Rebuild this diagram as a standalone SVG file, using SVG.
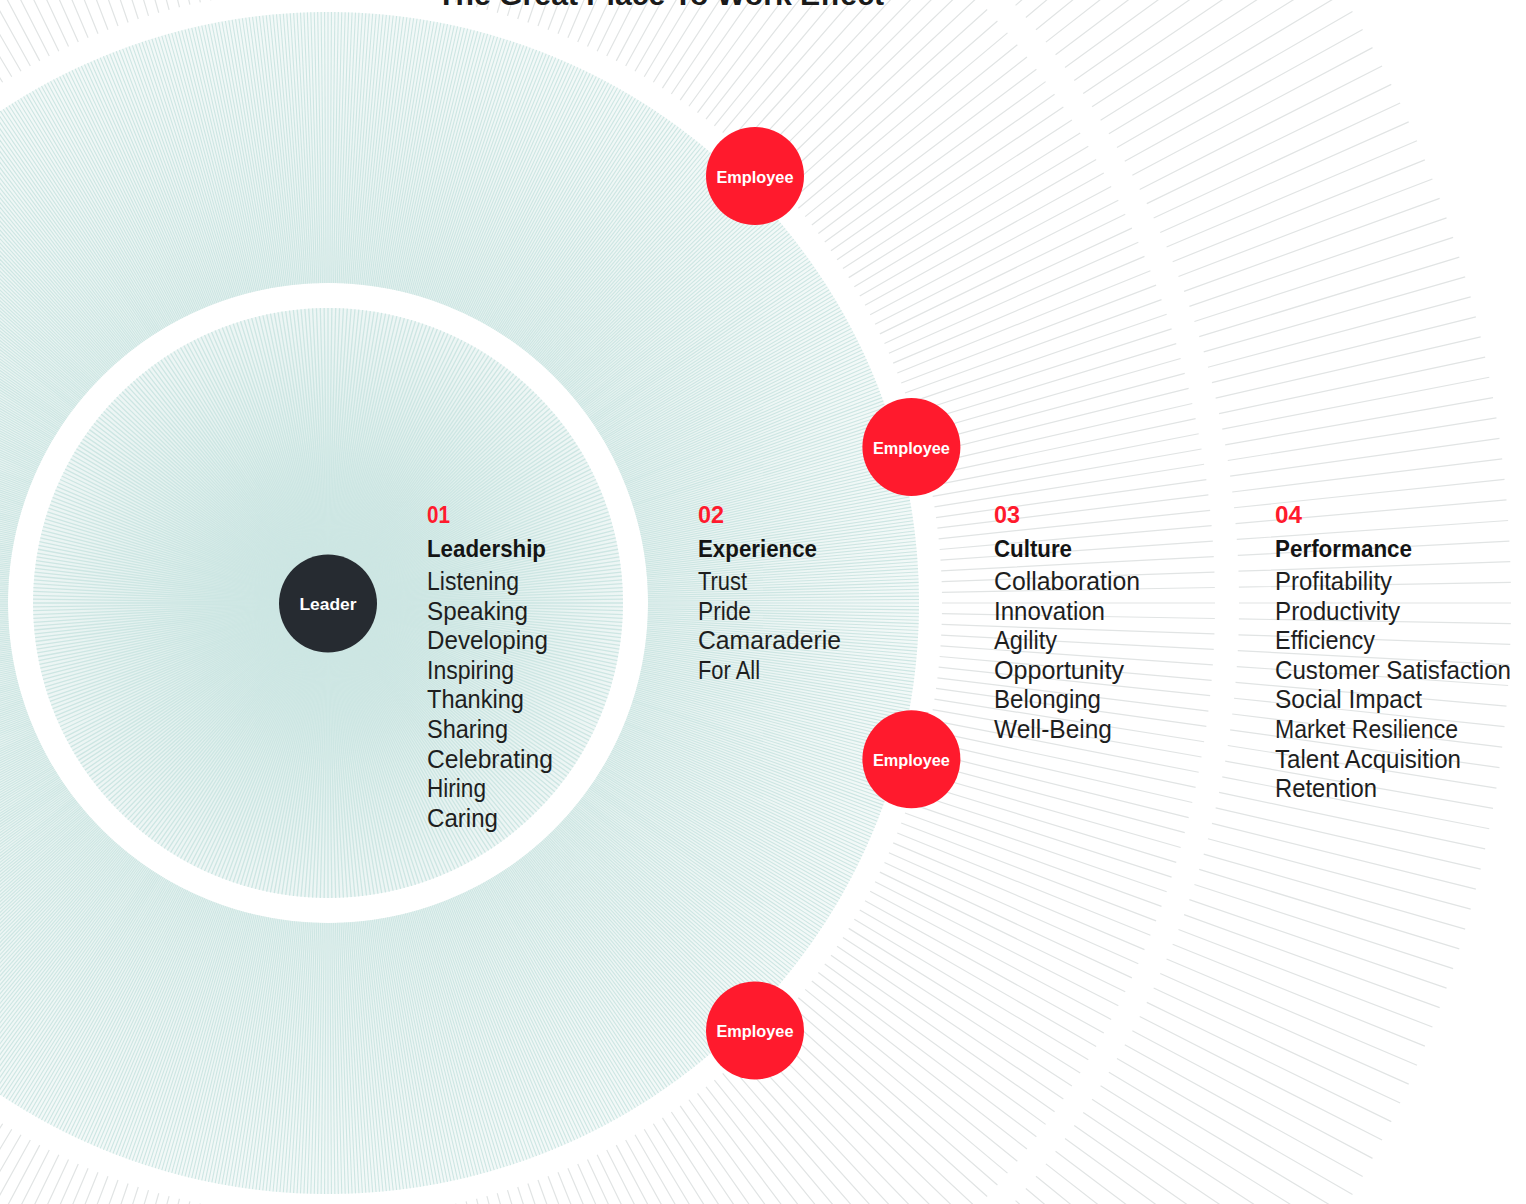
<svg xmlns="http://www.w3.org/2000/svg" width="1526" height="1204" viewBox="0 0 1526 1204">
<style>
.teal{stroke:#CDE6E3;fill:none}
.gray{stroke:#E1E4E4;fill:none}
text{font-family:"Liberation Sans",Arial,sans-serif}
.num{font-size:24px;font-weight:700;fill:#FF1A2D}
.hd{font-size:24px;font-weight:700;fill:#141414}
.it{font-size:25px;fill:#1E1E1E}
.red{fill:#FF1A2D}
.dark{fill:#262B31}
.lbl{font-size:17px;font-weight:700;fill:#FFFFFF;text-anchor:middle}
.title{font-size:30px;font-weight:700;fill:#1B1B1B}
</style>
<defs>
<radialGradient id="ga" cx="0" cy="0" r="295" gradientUnits="userSpaceOnUse">
<stop offset="0" stop-color="#D3EAE7"/>
<stop offset="0.45" stop-color="#DCEEEB"/>
<stop offset="1" stop-color="#EEF6F5"/>
</radialGradient>
<radialGradient id="gb" cx="0" cy="0" r="591" gradientUnits="userSpaceOnUse">
<stop offset="0.54" stop-color="#E6F2F0"/>
<stop offset="1" stop-color="#F3F9F8"/>
</radialGradient>
<path id="la" d="M0 0H295"/>
<g id="a1"><use href="#la"/><use href="#la" transform="rotate(0.75)"/><use href="#la" transform="rotate(1.5)"/><use href="#la" transform="rotate(2.25)"/><use href="#la" transform="rotate(3)"/><use href="#la" transform="rotate(3.75)"/><use href="#la" transform="rotate(4.5)"/><use href="#la" transform="rotate(5.25)"/><use href="#la" transform="rotate(6)"/><use href="#la" transform="rotate(6.75)"/></g>
<g id="a2"><use href="#a1"/><use href="#a1" transform="rotate(7.5)"/><use href="#a1" transform="rotate(15)"/><use href="#a1" transform="rotate(22.5)"/></g>
<g id="a3"><use href="#a2"/><use href="#a2" transform="rotate(30)"/><use href="#a2" transform="rotate(60)"/><use href="#a2" transform="rotate(90)"/><use href="#a2" transform="rotate(120)"/><use href="#a2" transform="rotate(150)"/><use href="#a2" transform="rotate(180)"/><use href="#a2" transform="rotate(210)"/><use href="#a2" transform="rotate(240)"/><use href="#a2" transform="rotate(270)"/><use href="#a2" transform="rotate(300)"/><use href="#a2" transform="rotate(330)"/></g>
<path id="lb" d="M320 0H591"/>
<g id="b1"><use href="#lb"/><use href="#lb" transform="rotate(0.33333)"/><use href="#lb" transform="rotate(0.66667)"/><use href="#lb" transform="rotate(1)"/><use href="#lb" transform="rotate(1.33333)"/><use href="#lb" transform="rotate(1.66667)"/><use href="#lb" transform="rotate(2)"/><use href="#lb" transform="rotate(2.33333)"/><use href="#lb" transform="rotate(2.66667)"/></g>
<g id="b2"><use href="#b1"/><use href="#b1" transform="rotate(3)"/><use href="#b1" transform="rotate(6)"/><use href="#b1" transform="rotate(9)"/><use href="#b1" transform="rotate(12)"/><use href="#b1" transform="rotate(15)"/><use href="#b1" transform="rotate(18)"/><use href="#b1" transform="rotate(21)"/><use href="#b1" transform="rotate(24)"/><use href="#b1" transform="rotate(27)"/></g>
<g id="b3"><use href="#b2"/><use href="#b2" transform="rotate(30)"/><use href="#b2" transform="rotate(60)"/><use href="#b2" transform="rotate(90)"/><use href="#b2" transform="rotate(120)"/><use href="#b2" transform="rotate(150)"/><use href="#b2" transform="rotate(180)"/><use href="#b2" transform="rotate(210)"/><use href="#b2" transform="rotate(240)"/><use href="#b2" transform="rotate(270)"/><use href="#b2" transform="rotate(300)"/><use href="#b2" transform="rotate(330)"/></g>
<path id="lc" d="M614 0H887M911 0H1183"/>
<g id="c1"><use href="#lc"/><use href="#lc" transform="rotate(1)"/><use href="#lc" transform="rotate(2)"/><use href="#lc" transform="rotate(3)"/><use href="#lc" transform="rotate(4)"/><use href="#lc" transform="rotate(5)"/><use href="#lc" transform="rotate(6)"/><use href="#lc" transform="rotate(7)"/><use href="#lc" transform="rotate(8)"/><use href="#lc" transform="rotate(9)"/></g>
<g id="c2"><use href="#c1"/><use href="#c1" transform="rotate(10)"/><use href="#c1" transform="rotate(20)"/></g>
<g id="c3"><use href="#c2"/><use href="#c2" transform="rotate(30)"/><use href="#c2" transform="rotate(60)"/><use href="#c2" transform="rotate(90)"/><use href="#c2" transform="rotate(120)"/><use href="#c2" transform="rotate(150)"/><use href="#c2" transform="rotate(180)"/><use href="#c2" transform="rotate(210)"/><use href="#c2" transform="rotate(240)"/><use href="#c2" transform="rotate(270)"/><use href="#c2" transform="rotate(300)"/><use href="#c2" transform="rotate(330)"/></g>
</defs>
<rect width="1526" height="1204" fill="#FFFFFF"/>
<g id="rings" transform="translate(328 603)">
<use href="#c3" class="gray" stroke-width="1.2"/>
<circle r="455.5" fill="none" stroke="url(#gb)" stroke-width="271"/>
<circle r="295" fill="url(#ga)"/>
<use href="#b3" class="teal" stroke-width="1.1"/>
<use href="#a3" class="teal" stroke-width="1.3"/>
</g>
<text class="title" x="437" y="5" textLength="447" lengthAdjust="spacingAndGlyphs">The Great Place To Work Effect</text>
<g id="connectors"></g>
<g id="leader">
<circle class="dark" cx="328" cy="603.5" r="49"/>
<text class="lbl" x="328" y="609.5" textLength="57" lengthAdjust="spacingAndGlyphs">Leader</text>
</g>
<g id="employee-1">
<circle class="red" cx="755" cy="176" r="49"/>
<text class="lbl" x="755" y="182.5" textLength="77" lengthAdjust="spacingAndGlyphs">Employee</text>
</g>
<g id="employee-2">
<circle class="red" cx="911.4" cy="447" r="49"/>
<text class="lbl" x="911.4" y="453.5" textLength="77" lengthAdjust="spacingAndGlyphs">Employee</text>
</g>
<g id="employee-3">
<circle class="red" cx="911.4" cy="759.3" r="49"/>
<text class="lbl" x="911.4" y="765.8" textLength="77" lengthAdjust="spacingAndGlyphs">Employee</text>
</g>
<g id="employee-4">
<circle class="red" cx="755" cy="1030.5" r="49"/>
<text class="lbl" x="755" y="1037" textLength="77" lengthAdjust="spacingAndGlyphs">Employee</text>
</g>
<g id="col-leadership">
<text class="num" x="427" y="523" textLength="23" lengthAdjust="spacingAndGlyphs">01</text>
<text class="hd" x="427" y="557" textLength="119" lengthAdjust="spacingAndGlyphs">Leadership</text>
<text class="it" x="427" y="590" textLength="92" lengthAdjust="spacingAndGlyphs">Listening</text>
<text class="it" x="427" y="619.6" textLength="101" lengthAdjust="spacingAndGlyphs">Speaking</text>
<text class="it" x="427" y="649.2" textLength="121" lengthAdjust="spacingAndGlyphs">Developing</text>
<text class="it" x="427" y="678.8" textLength="87" lengthAdjust="spacingAndGlyphs">Inspiring</text>
<text class="it" x="427" y="708.4" textLength="97" lengthAdjust="spacingAndGlyphs">Thanking</text>
<text class="it" x="427" y="738" textLength="81" lengthAdjust="spacingAndGlyphs">Sharing</text>
<text class="it" x="427" y="767.6" textLength="126" lengthAdjust="spacingAndGlyphs">Celebrating</text>
<text class="it" x="427" y="797.2" textLength="59" lengthAdjust="spacingAndGlyphs">Hiring</text>
<text class="it" x="427" y="826.8" textLength="71" lengthAdjust="spacingAndGlyphs">Caring</text>
</g>
<g id="col-experience">
<text class="num" x="698" y="523" textLength="26" lengthAdjust="spacingAndGlyphs">02</text>
<text class="hd" x="698" y="557" textLength="119" lengthAdjust="spacingAndGlyphs">Experience</text>
<text class="it" x="698" y="590" textLength="49" lengthAdjust="spacingAndGlyphs">Trust</text>
<text class="it" x="698" y="619.6" textLength="53" lengthAdjust="spacingAndGlyphs">Pride</text>
<text class="it" x="698" y="649.2" textLength="143" lengthAdjust="spacingAndGlyphs">Camaraderie</text>
<text class="it" x="698" y="678.8" textLength="62" lengthAdjust="spacingAndGlyphs">For All</text>
</g>
<g id="col-culture">
<text class="num" x="994" y="523" textLength="26" lengthAdjust="spacingAndGlyphs">03</text>
<text class="hd" x="994" y="557" textLength="78" lengthAdjust="spacingAndGlyphs">Culture</text>
<text class="it" x="994" y="590" textLength="146" lengthAdjust="spacingAndGlyphs">Collaboration</text>
<text class="it" x="994" y="619.6" textLength="111" lengthAdjust="spacingAndGlyphs">Innovation</text>
<text class="it" x="994" y="649.2" textLength="63" lengthAdjust="spacingAndGlyphs">Agility</text>
<text class="it" x="994" y="678.8" textLength="130" lengthAdjust="spacingAndGlyphs">Opportunity</text>
<text class="it" x="994" y="708.4" textLength="107" lengthAdjust="spacingAndGlyphs">Belonging</text>
<text class="it" x="994" y="738" textLength="118" lengthAdjust="spacingAndGlyphs">Well-Being</text>
</g>
<g id="col-performance">
<text class="num" x="1275" y="523" textLength="27" lengthAdjust="spacingAndGlyphs">04</text>
<text class="hd" x="1275" y="557" textLength="137" lengthAdjust="spacingAndGlyphs">Performance</text>
<text class="it" x="1275" y="590" textLength="117" lengthAdjust="spacingAndGlyphs">Profitability</text>
<text class="it" x="1275" y="619.6" textLength="125" lengthAdjust="spacingAndGlyphs">Productivity</text>
<text class="it" x="1275" y="649.2" textLength="100" lengthAdjust="spacingAndGlyphs">Efficiency</text>
<text class="it" x="1275" y="678.8" textLength="236" lengthAdjust="spacingAndGlyphs">Customer Satisfaction</text>
<text class="it" x="1275" y="708.4" textLength="147" lengthAdjust="spacingAndGlyphs">Social Impact</text>
<text class="it" x="1275" y="738" textLength="183" lengthAdjust="spacingAndGlyphs">Market Resilience</text>
<text class="it" x="1275" y="767.6" textLength="186" lengthAdjust="spacingAndGlyphs">Talent Acquisition</text>
<text class="it" x="1275" y="797.2" textLength="102" lengthAdjust="spacingAndGlyphs">Retention</text>
</g>
</svg>
